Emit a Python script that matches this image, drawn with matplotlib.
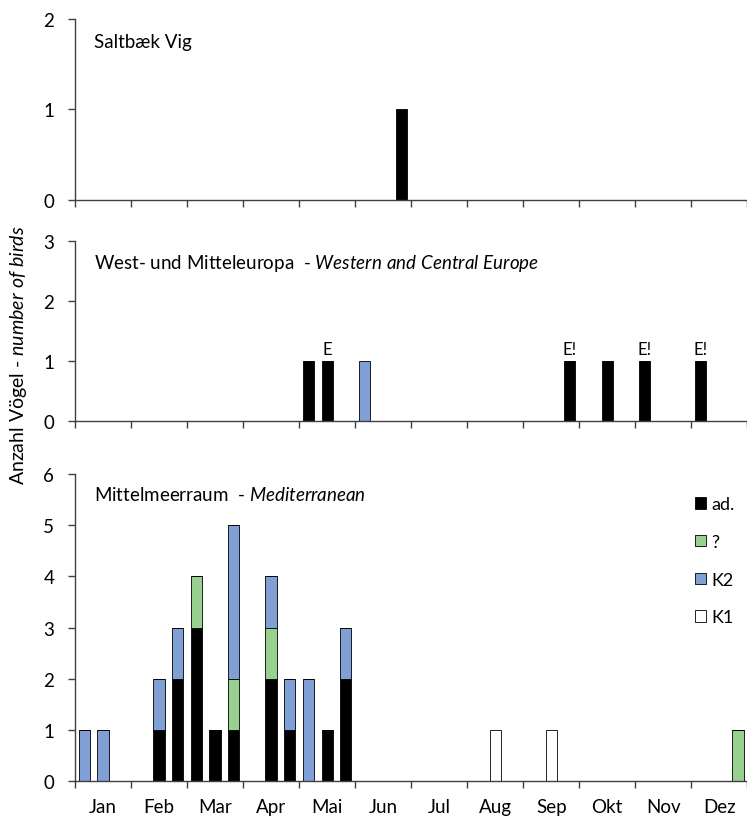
import numpy as np
import matplotlib
matplotlib.use("Agg")
import matplotlib.pyplot as plt

plt.rcParams['font.family'] = ['Lato', 'DejaVu Sans']
plt.rcParams['mathtext.fontset'] = 'custom'
plt.rcParams['mathtext.rm'] = 'Lato'
plt.rcParams['mathtext.it'] = 'Lato:italic'

months = ['Jan', 'Feb', 'Mar', 'Apr', 'Mai', 'Jun', 'Jul', 'Aug', 'Sep', 'Okt', 'Nov', 'Dez']
# 3 slots (decades) per month -> 36 positions

# Saltbæk Vig
salt_ad = [0]*17 + [1] + [0]*18

# West- und Mitteleuropa
west_ad = [0,0,0, 0,0,0, 0,0,0, 0,0,0, 1,1,0, 0,0,0,
           0,0,0, 0,0,0, 0,0,1, 0,1,0, 1,0,0, 1,0,0]
west_k2 = [0,0,0, 0,0,0, 0,0,0, 0,0,0, 0,0,0, 1,0,0,
           0,0,0, 0,0,0, 0,0,0, 0,0,0, 0,0,0, 0,0,0]
west_notes = {13: 'E', 26: 'E!', 30: 'E!', 33: 'E!'}

# Mittelmeerraum
med_ad = [0,0,0, 0,1,2, 3,1,1, 0,2,1, 0,1,2, 0,0,0,
          0,0,0, 0,0,0, 0,0,0, 0,0,0, 0,0,0, 0,0,0]
med_q  = [0,0,0, 0,0,0, 1,0,1, 0,1,0, 0,0,0, 0,0,0,
          0,0,0, 0,0,0, 0,0,0, 0,0,0, 0,0,0, 0,0,1]
med_k2 = [1,1,0, 0,1,1, 0,0,3, 0,1,1, 2,0,1, 0,0,0,
          0,0,0, 0,0,0, 0,0,0, 0,0,0, 0,0,0, 0,0,0]
med_k1 = [0,0,0, 0,0,0, 0,0,0, 0,0,0, 0,0,0, 0,0,0,
          0,0,0, 0,1,0, 0,1,0, 0,0,0, 0,0,0, 0,0,0]

c_ad = 'black'
c_q = '#98D08F'
c_k2 = '#7F9FD5'
c_k1 = 'white'
axc = '#404040'
bw = 0.6
fs = 13.5

fig = plt.figure(figsize=(7.47, 8.2), dpi=100)
left, width = 0.1004, 0.9
ax1 = fig.add_axes([left, 0.7549, width, 0.9756 - 0.7549])
ax2 = fig.add_axes([left, 0.4857, width, 0.7052 - 0.4857])
ax3 = fig.add_axes([left, 0.0463, width, 0.4207 - 0.0463])

x = np.arange(36) + 0.5

def style(ax, ymax, labels=False):
    ax.set_xlim(0, 36)
    ax.set_ylim(0, ymax)
    ax.set_yticks(range(ymax + 1))
    for s in ['top', 'right']:
        ax.spines[s].set_visible(False)
    for s in ['left', 'bottom']:
        ax.spines[s].set_color(axc)
        ax.spines[s].set_linewidth(1.0)
    ax.set_xticks(np.arange(0, 37, 3))
    ax.set_xticklabels([])
    ax.tick_params(axis='both', which='major', direction='out', length=5,
                   color=axc, width=1.0, labelsize=fs, pad=10)
    if labels:
        ax.set_xticks(np.arange(1.5, 36, 3), minor=True)
        ax.set_xticklabels(months, minor=True)
        ax.tick_params(axis='x', which='minor', length=0, labelsize=fs, pad=12)

ax1.bar(x, salt_ad, bw, color=c_ad, edgecolor='black', linewidth=0.6)
style(ax1, 2)
ax1.text(1.0, 1.75, 'Saltbæk Vig', fontsize=fs, va='center')

ax2.bar(x, west_ad, bw, color=c_ad, edgecolor='black', linewidth=0.6)
ax2.bar(x, west_k2, bw, bottom=west_ad, color=c_k2, edgecolor='black', linewidth=0.6)
for i, t in west_notes.items():
    ax2.text(x[i], 1.07, t, ha='center', va='bottom', fontsize=12)
style(ax2, 3)
ax2.text(1.0, 2.63, r'West- und Mitteleuropa  - $\it{Western\ and\ Central\ Europe}$',
         fontsize=fs, va='center')

b1 = np.array(med_ad)
b2 = b1 + np.array(med_q)
b3 = b2 + np.array(med_k2)
ax3.bar(x, med_ad, bw, color=c_ad, edgecolor='black', linewidth=0.6, label='ad.')
ax3.bar(x, med_q, bw, bottom=b1, color=c_q, edgecolor='black', linewidth=0.6, label='?')
ax3.bar(x, med_k2, bw, bottom=b2, color=c_k2, edgecolor='black', linewidth=0.6, label='K2')
ax3.bar(x, med_k1, bw, bottom=b3, color=c_k1, edgecolor='black', linewidth=0.6, label='K1')
style(ax3, 6, labels=True)
ax3.text(1.0, 5.6, r'Mittelmeerraum  - $\it{Mediterranean}$', fontsize=fs, va='center')
ax3.legend(loc='upper left', bbox_to_anchor=(0.9226, 0.927), frameon=False, fontsize=13,
           handlelength=0.6, handleheight=0.6, handletextpad=0.3, labelspacing=1.2,
           borderpad=0, borderaxespad=0)

fig.text(0.025, 1 - 355 / 820, r'Anzahl Vögel - $\it{number\ of\ birds}$',
         rotation=90, va='center', ha='center', fontsize=14)

fig.savefig('out.png', dpi=100)
